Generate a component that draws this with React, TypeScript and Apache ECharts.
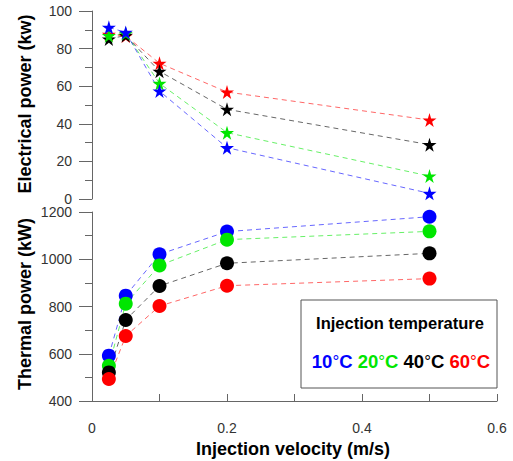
import React, { useEffect, useRef } from "react";
import * as echarts from "echarts";

const velocities = [0.025, 0.05, 0.1, 0.2, 0.5];
const temps = ["10", "20", "40", "60"];
const colors = ["#0000ff", "#00e600", "#000000", "#ff0000"];

const elec10 = [91.3, 88.6, 57.4, 27.3, 3.0];
const elec20 = [86.9, 88.0, 61.5, 35.3, 12.2];
const elec40 = [85.1, 87.0, 67.9, 47.7, 28.9];
const elec60 = [87.6, 86.7, 72.2, 56.9, 42.0];

const therm10 = [592, 846, 1021, 1117, 1180];
const therm20 = [549, 812, 974, 1083, 1118];
const therm40 = [521, 743, 887, 983, 1025];
const therm60 = [493, 675, 802, 888, 918];

const elecTicks = [0, 20, 40, 60, 80, 100];
const thermTicks = [400, 600, 800, 1000, 1200];

const STAR = "path://M50,0 L61,35 L98,35 L68,57 L79,91 L50,70 L21,91 L32,57 L2,35 L39,35 Z";
const FONT = "Liberation Sans, Arial, sans-serif";

export default function App() {
  const ref = useRef<HTMLDivElement>(null);
  useEffect(() => {
    document.body.style.margin = "0";
    if (!ref.current) return;
    const chart = echarts.init(ref.current, null, { renderer: "svg" });
    const elec = [elec10, elec20, elec40, elec60];
    const therm = [therm10, therm20, therm40, therm60];
    const axisLine = { show: true, lineStyle: { color: "#666", width: 1 } };
    const lbl = { color: "#333", fontSize: 14, fontFamily: FONT };
    const yAxisCommon = {
      type: "value" as const,
      axisLine,
      axisTick: { show: true, length: 13, lineStyle: { color: "#666" } },
      minorTick: { show: true, splitNumber: 2, length: 7, lineStyle: { color: "#666" } },
      splitLine: { show: false },
      axisLabel: { ...lbl, lineHeight: 12, margin: 20, formatter: (v: number) => String(v) },
    };
    const topOrder = [3, 2, 1, 0];
    const botOrder = [0, 1, 2, 3];
    const series: any[] = [];
    topOrder.forEach((i) => {
      series.push({
        type: "line",
        name: temps[i] + " elec",
        xAxisIndex: 0,
        yAxisIndex: 0,
        data: velocities.map((v, k) => [v, elec[i][k]]),
        symbol: STAR,
        symbolSize: 14,
        itemStyle: { color: colors[i] },
        lineStyle: { color: colors[i], width: 1, type: [5, 4], opacity: 0.6 },
      });
    });
    botOrder.forEach((i) => {
      series.push({
        type: "line",
        name: temps[i] + " therm",
        xAxisIndex: 1,
        yAxisIndex: 1,
        data: velocities.map((v, k) => [v, therm[i][k]]),
        symbol: "circle",
        symbolSize: 14,
        itemStyle: { color: colors[i] },
        lineStyle: { color: colors[i], width: 1, type: [5, 4], opacity: 0.6 },
      });
    });
    const degRich: any = {};
    temps.forEach((t, i) => {
      degRich["n" + i] = { fontSize: 18.5, fontWeight: "bold", fontFamily: FONT, fill: colors[i] };
      degRich["d" + i] = { fontSize: 17, fontWeight: "normal", fontFamily: FONT, fill: colors[i] };
    });
    const entryText = temps
      .map((t, i) => `{n${i}|${t}}{d${i}|°}{n${i}|C}`)
      .join("{n0| }");
    chart.setOption({
      animation: false,
      backgroundColor: "#fff",
      grid: [
        { left: 92, top: 11, width: 405, height: 188 },
        { left: 92, top: 212, width: 405, height: 189 },
      ],
      xAxis: [
        { type: "value", gridIndex: 0, min: 0, max: 0.6, show: false },
        {
          type: "value",
          gridIndex: 1,
          min: 0,
          max: 0.6,
          interval: 0.2,
          axisLine,
          axisTick: { show: true, inside: true, length: 7, lineStyle: { color: "#666" } },
          minorTick: { show: true, splitNumber: 2, length: 7, lineStyle: { color: "#666" } },
          splitLine: { show: false },
          axisLabel: { ...lbl, margin: 20, formatter: (v: number) => String(Math.round(v * 10) / 10) },
        },
      ],
      yAxis: [
        { ...yAxisCommon, gridIndex: 0, min: elecTicks[0], max: elecTicks[elecTicks.length - 1], interval: 20 },
        { ...yAxisCommon, gridIndex: 1, min: thermTicks[0], max: thermTicks[thermTicks.length - 1], interval: 200 },
      ],
      series,
      graphic: [
        {
          type: "text",
          x: 25,
          y: 104,
          rotation: Math.PI / 2,
          style: {
            text: "Electrical power (kw)",
            font: `bold 18px ${FONT}`,
            fill: "#000",
            textAlign: "center",
            textVerticalAlign: "middle",
          },
        },
        {
          type: "text",
          x: 25,
          y: 304,
          rotation: Math.PI / 2,
          style: {
            text: "Thermal power (kW)",
            font: `bold 18px ${FONT}`,
            fill: "#000",
            textAlign: "center",
            textVerticalAlign: "middle",
          },
        },
        {
          type: "text",
          x: 293,
          y: 449,
          style: {
            text: "Injection velocity (m/s)",
            font: `bold 18px ${FONT}`,
            fill: "#000",
            textAlign: "center",
            textVerticalAlign: "middle",
          },
        },
        {
          type: "rect",
          shape: { x: 301, y: 300, width: 196, height: 88 },
          style: { fill: "#fff", stroke: "#555", lineWidth: 1 },
          z: 100,
        },
        {
          type: "text",
          x: 400,
          y: 323,
          z: 101,
          style: {
            text: "Injection temperature",
            font: `bold 16.5px ${FONT}`,
            fill: "#000",
            textAlign: "center",
            textVerticalAlign: "middle",
          },
        },
        {
          type: "text",
          x: 401,
          y: 361,
          z: 101,
          style: {
            text: entryText,
            rich: degRich,
            textAlign: "center",
            textVerticalAlign: "middle",
          },
        },
      ],
    });
    return () => chart.dispose();
  }, []);
  return <div ref={ref} style={{ width: 513, height: 461 }} />;
}
